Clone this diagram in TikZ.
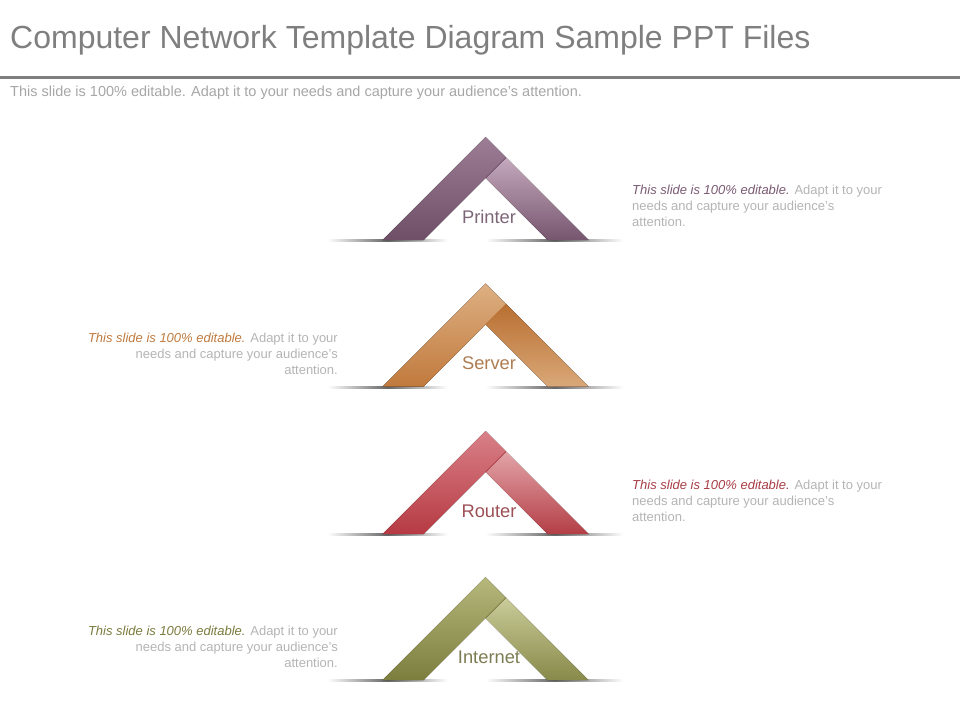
\documentclass[tikz,border=0pt]{standalone}
\usepackage{fontspec}
\setmainfont{Liberation Sans}
\usetikzlibrary{positioning}

\definecolor{titlegray}{HTML}{7F7F7F}
\definecolor{subgray}{HTML}{A6A6A6}
\definecolor{bodygray}{HTML}{B4B4B4}
% roof colours: A/B left leg top/bottom, C/D right leg top/bottom, T text
\definecolor{printerA}{HTML}{9C7D95}
\definecolor{printerB}{HTML}{6E4F67}
\definecolor{printerC}{HTML}{C4A8BD}
\definecolor{printerD}{HTML}{76566F}
\definecolor{printerT}{HTML}{7A5A73}
\definecolor{serverA}{HTML}{DDAF82}
\definecolor{serverB}{HTML}{C17A3D}
\definecolor{serverC}{HTML}{B96F31}
\definecolor{serverD}{HTML}{D9A878}
\definecolor{serverT}{HTML}{C07A3E}
\definecolor{routerA}{HTML}{D98088}
\definecolor{routerB}{HTML}{B63A43}
\definecolor{routerC}{HTML}{E2A4A8}
\definecolor{routerD}{HTML}{B43E46}
\definecolor{routerT}{HTML}{A83C45}
\definecolor{internetA}{HTML}{B6B87C}
\definecolor{internetB}{HTML}{7C7E3E}
\definecolor{internetC}{HTML}{CACC9A}
\definecolor{internetD}{HTML}{888A4A}
\definecolor{internetT}{HTML}{7A7A3E}

% soft shadow line under the roofs
\pgfdeclarehorizontalshading{groundfade}{100bp}{color(0bp)=(white); color(25bp)=(white); color(50bp)=(black!60); color(75bp)=(white); color(100bp)=(white)}

\begin{document}
\begin{tikzpicture}[
        x=1pt, y=-1pt,
        title/.style={anchor=base west, inner sep=0, text=titlegray, font=\fontsize{32}{36}\selectfont},
        subtitle/.style={anchor=base west, inner sep=0, text=subgray, font=\fontsize{14.5}{17}\selectfont},
        roofname/.style={inner sep=0, font=\fontsize{18.3}{22}\selectfont},
        sidetext/.style={inner sep=0, text=bodygray, font=\fontsize{13}{16}\selectfont},
        ground/.style={shading=groundfade}
    ]

    \useasboundingbox (0,0) rectangle (960,720);

    \node[title] (heading) at (10,48) {Computer Network Template Diagram Sample PPT Files};
    \fill[titlegray] (0,75.5) rectangle (960,78.5);
    \node[subtitle] (intro) at (10,96) {This slide is 100\% editable. Adapt it to your needs and capture your audience's attention.};

    % four roofs
    \foreach \name/\lbl/\ay in {printer/Printer/137, server/Server/283.5, router/Router/431, internet/Internet/577}{
        \coordinate (\name) at (485.5,\ay);
        \begin{scope}[shift={(\name)}]
            \shade[ground] (-158,102.5) rectangle (-38,104.5);
            \shade[ground] (0,102.5) rectangle (138,104.5);
            \fill[top color=\name C, bottom color=\name D]
                (20.5,20.5) -- (103,103) -- (62,103) -- (0,41) -- cycle;
            \fill[top color=\name A, bottom color=\name B]
                (0,0) -- (20.5,20.5) -- (0,41) -- (-62,103) -- (-103,103) -- cycle;
            \draw[\name B, thin] (0,41) -- (20.5,20.5);
        \end{scope}
        \node[roofname, text=\name T!70!gray] (\name-label) at ([xshift=3.5pt, yshift=-80pt]\name) {\lbl};
    }

    % side texts
    \node[sidetext, anchor=north west, align=left] (printer-text) at ([xshift=146.5pt, yshift=-48pt]printer)
        {{\itshape\color{printerT}This slide is 100\% editable.} Adapt it to your\\needs and capture your audience's\\attention.};
    \node[sidetext, anchor=north east, align=right] (server-text) at ([xshift=-147.5pt, yshift=-49pt]server)
        {{\itshape\color{serverT}This slide is 100\% editable.} Adapt it to your\\needs and capture your audience's\\attention.};
    \node[sidetext, anchor=north west, align=left] (router-text) at ([xshift=146.5pt, yshift=-49pt]router)
        {{\itshape\color{routerT}This slide is 100\% editable.} Adapt it to your\\needs and capture your audience's\\attention.};
    \node[sidetext, anchor=north east, align=right] (internet-text) at ([xshift=-147.5pt, yshift=-49pt]internet)
        {{\itshape\color{internetT}This slide is 100\% editable.} Adapt it to your\\needs and capture your audience's\\attention.};

\end{tikzpicture}
\end{document}
